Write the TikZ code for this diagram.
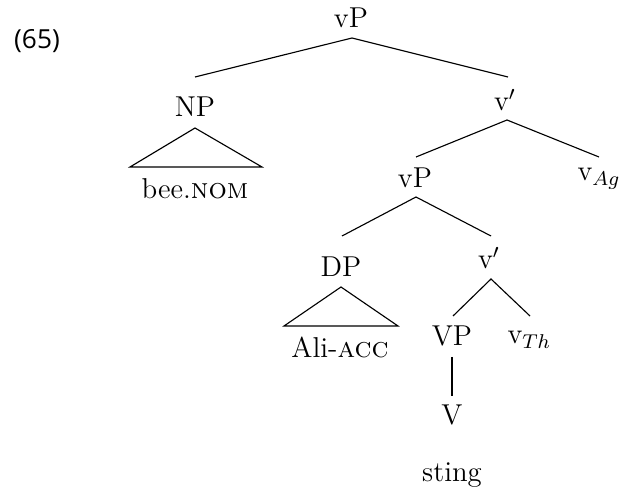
\documentclass[tikz,border=0pt]{standalone}
\usepackage{fontspec}
\newfontfamily\exfont{Open Sans}
\begin{document}
\begin{tikzpicture}[x=0.4pt,y=-0.4pt,
  lab/.style={anchor=base,inner sep=0pt,font=\fontsize{11.5}{13}\selectfont},
  br/.style={line width=0.45pt}]
\useasboundingbox (0,0) rectangle (620,492);
% labels
\node[lab,font=\exfont\fontsize{10.5}{12}\selectfont] (ex) at (37,49) {(65)};
\node[lab] (vPa) at (351,28) {vP};
\node[lab] (NP) at (195,117) {NP};
\node[lab] (bee) at (195,199) {bee.\textsc{nom}};
\node[lab] (vba) at (505,111) {v$'$};
\node[lab] (vPb) at (415,188) {vP};
\node[lab,anchor=base west] (vAg) at (577,181) {v$_{Ag}$};
\node[lab] (DP) at (341,277) {DP};
\node[lab] (Ali) at (340,358) {Ali-\textsc{acc}};
\node[lab] (vbb) at (489,269) {v$'$};
\node[lab] (VP) at (452,346) {VP};
\node[lab,anchor=base west] (vTh) at (507,344) {v$_{Th}$};
\node[lab] (V) at (452,425) {V};
\node[lab] (sting) at (452,481) {sting};
% connector ends
\coordinate (vPa-s) at (352,38);
\coordinate (NP-n) at (195,77);
\coordinate (vba-n) at (508,77);
\coordinate (vba-s) at (507,120);
\coordinate (vPb-n) at (416,157);
\coordinate (vAg-n) at (599,157);
\coordinate (vPb-s) at (416,197);
\coordinate (DP-n) at (342,236);
\coordinate (vbb-n) at (491,236);
\coordinate (vbb-s) at (491,279);
\coordinate (VP-n) at (453,316);
\coordinate (vTh-n) at (530,316);
\coordinate (VP-s) at (452,357);
\coordinate (V-n) at (452,396);
\coordinate (NPt) at (195,128);
\coordinate (NPl) at (130,167);
\coordinate (NPr) at (262,167);
\coordinate (DPt) at (341,287);
\coordinate (DPl) at (284,326);
\coordinate (DPr) at (398,326);
% branches
\draw[br] (NP-n) -- (vPa-s) -- (vba-n);
\draw[br] (vPb-n) -- (vba-s) -- (vAg-n);
\draw[br] (DP-n) -- (vPb-s) -- (vbb-n);
\draw[br] (VP-n) -- (vbb-s) -- (vTh-n);
\draw[br] (VP-s) -- (V-n);
\draw[br] (NPt) -- (NPl) -- (NPr) -- cycle;
\draw[br] (DPt) -- (DPl) -- (DPr) -- cycle;
\end{tikzpicture}
\end{document}
